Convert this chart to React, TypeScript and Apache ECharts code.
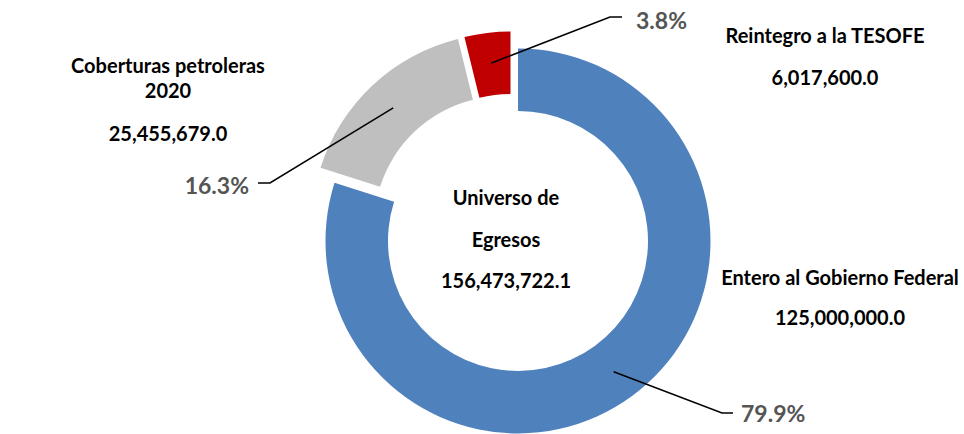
import React, { useEffect, useRef } from 'react';
import * as echarts from 'echarts';

// ---- data ----
const categories = ['Entero al Gobierno Federal', 'Coberturas petroleras 2020', 'Reintegro a la TESOFE'];
const values = [125000000.0, 25455679.0, 6017600.0];
const amountLabels = ['125,000,000.0', '25,455,679.0', '6,017,600.0'];
const centerTitle = ['Universo de', 'Egresos'];
const totalLabel = '156,473,722.1';

// ---- style / layout ----
const colors = ['#4F81BD', '#BFBFBF', '#C00000'];
const CX = 518;
const CY = 241;
const R_IN = 130;
const R_OUT = 192.5;
const R_MID = 162;
const sliceShift = [[0, 0], [-14, -15], [-7.5, -17]];
const elbows = [[722, 413], [270, 183], [610, 17]];
const lineEnds = [[733, 413], [258, 183], [622, 17]];
const pctAnchor: [number, number, string][] = [[741, 413, 'left'], [249, 185, 'right'], [636, 20, 'left']];

const FONT = 'Lato, "Open Sans", sans-serif';

const textBlocks = [
  { text: 'Coberturas petroleras', x: 168, y: 65 },
  { text: '2020', x: 168, y: 90 },
  { text: amountLabels[1], x: 168, y: 133 },
  { text: 'Reintegro a la TESOFE', x: 825, y: 35 },
  { text: amountLabels[2], x: 825, y: 77 },
  { text: 'Entero al Gobierno Federal', x: 840, y: 277 },
  { text: amountLabels[0], x: 840, y: 317 },
  { text: centerTitle[0], x: 506, y: 197 },
  { text: centerTitle[1], x: 506, y: 239 },
  { text: totalLabel, x: 506, y: 280 },
];

export default function App() {
  const ref = useRef<HTMLDivElement>(null);
  useEffect(() => {
    if (!ref.current) return;
    const chart = echarts.init(ref.current, null, { renderer: 'svg' });
    const total = values.reduce((a, b) => a + b, 0);
    const midAngles: number[] = [];
    let cum = 0;
    values.forEach((v) => {
      midAngles.push(((cum + v / 2) / total) * Math.PI * 2);
      cum += v;
    });

    const base = {
      type: 'pie',
      radius: [R_IN, R_OUT],
      startAngle: 90,
      clockwise: true,
      silent: true,
      percentPrecision: 1,
      avoidLabelOverlap: false,
      itemStyle: { borderWidth: 0 },
      emphasis: { disabled: true },
    };

    // one series per slice so each slice can be pulled out by its own offset
    const sliceSeries = values.map((_, i) => ({
      ...base,
      z: 2,
      center: [CX + sliceShift[i][0], CY + sliceShift[i][1]],
      label: { show: false },
      labelLine: { show: false },
      data: values.map((v, j) => ({
        value: v,
        name: categories[j],
        itemStyle: { color: j === i ? colors[j] : 'rgba(0,0,0,0)', borderWidth: 0 },
      })),
    }));

    // transparent series on top that carries the percentage labels and leader lines
    const labelSeries = {
      ...base,
      z: 5,
      center: [CX, CY],
      label: {
        show: true,
        position: 'outside',
        formatter: '{d}%',
        color: '#555555',
        fontFamily: FONT,
        fontWeight: 'bold',
        fontSize: 23,
      },
      labelLine: { show: true, length: 20, length2: 10, lineStyle: { color: '#000', width: 1.5 } },
      data: values.map((v, j) => ({
        value: v,
        name: categories[j],
        itemStyle: { color: 'rgba(0,0,0,0)', borderWidth: 0 },
      })),
      labelLayout: (p: any) => {
        const i = p.dataIndex;
        const a = midAngles[i];
        const sx = CX + sliceShift[i][0] + R_MID * Math.sin(a);
        const sy = CY + sliceShift[i][1] - R_MID * Math.cos(a);
        return {
          x: pctAnchor[i][0],
          y: pctAnchor[i][1],
          align: pctAnchor[i][2],
          verticalAlign: 'middle',
          labelLinePoints: [[sx, sy], elbows[i], lineEnds[i]],
        };
      },
    };

    chart.setOption({
      animation: false,
      backgroundColor: '#fff',
      series: [...sliceSeries, labelSeries],
      graphic: {
        elements: textBlocks.map((t) => ({
          type: 'text',
          x: t.x,
          y: t.y,
          silent: true,
          style: {
            text: t.text,
            fill: '#000',
            fontFamily: FONT,
            fontWeight: 'bold',
            fontSize: 20,
            align: 'center',
            verticalAlign: 'middle',
            textAlign: 'center',
            textVerticalAlign: 'middle',
          },
        })),
      },
    } as any);
    return () => chart.dispose();
  }, []);
  return (
    <div
      ref={ref}
      style={{ position: 'absolute', left: 0, top: 0, width: 964, height: 434 }}
    />
  );
}
